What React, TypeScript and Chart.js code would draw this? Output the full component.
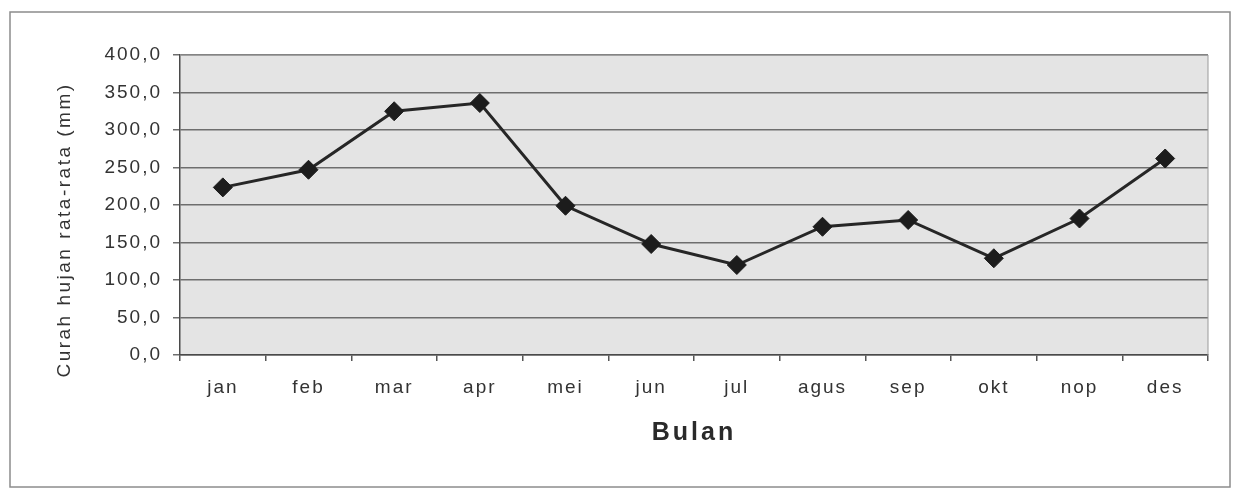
import React, { useEffect, useRef } from "react";
import { Chart, registerables } from "chart.js";

Chart.register(...registerables);

const months: string[] = ["jan", "feb", "mar", "apr", "mei", "jun", "jul", "agus", "sep", "okt", "nop", "des"];
const rainfall: number[] = [223.5, 247, 325, 336, 199, 148, 120, 171, 180, 129, 182, 262];
const yTickMin = 0;
const yTickMax = 400;
const yTickStep = 50;
const xTitle = "Bulan";
const yTitle = "Curah hujan rata-rata (mm)";

const FONT = "'Liberation Sans', Arial, sans-serif";
const TEXT = "#333333";

const decor = {
  id: "decor",
  beforeUpdate(chart: any) {
    chart.ctx.letterSpacing = "2px";
  },
  beforeDraw(chart: any) {
    const ctx = chart.ctx;
    ctx.letterSpacing = "2px";
    ctx.save();
    ctx.fillStyle = "#ffffff";
    ctx.fillRect(0, 0, chart.width, chart.height);
    ctx.strokeStyle = "#8c8c8c";
    ctx.lineWidth = 1.5;
    ctx.strokeRect(10, 12, 1220, 475);
    const a = chart.chartArea;
    ctx.fillStyle = "#e4e4e4";
    ctx.fillRect(a.left, a.top, a.right - a.left, a.bottom - a.top);
    ctx.restore();
  },
  beforeDatasetsDraw(chart: any) {
    const ctx = chart.ctx;
    const a = chart.chartArea;
    ctx.save();
    ctx.strokeStyle = "#9a9a9a";
    ctx.lineWidth = 1;
    ctx.beginPath();
    ctx.moveTo(a.left, a.top);
    ctx.lineTo(a.right, a.top);
    ctx.lineTo(a.right, a.bottom);
    ctx.stroke();
    ctx.restore();
  },
  afterDraw(chart: any) {
    const ctx = chart.ctx;
    ctx.save();
    ctx.fillStyle = "#2a2a2a";
    ctx.textAlign = "center";
    ctx.textBaseline = "middle";
    ctx.letterSpacing = "3px";
    ctx.font = `bold 25px ${FONT}`;
    ctx.fillText(xTitle, 694, 433);
    ctx.translate(65, 230);
    ctx.rotate(-Math.PI / 2);
    ctx.fillStyle = TEXT;
    ctx.letterSpacing = "2.5px";
    ctx.font = `19px ${FONT}`;
    ctx.fillText(yTitle, 0, 0);
    ctx.restore();
  },
};

export default function App() {
  const ref = useRef<HTMLCanvasElement | null>(null);
  useEffect(() => {
    document.body.style.margin = "0";
    const canvas = ref.current!;
    const chart = new Chart(canvas, {
      type: "line",
      data: {
        labels: months,
        datasets: [
          {
            data: rainfall,
            borderColor: "#262626",
            borderWidth: 3,
            pointStyle: "rectRot",
            pointRadius: 9.5,
            pointBackgroundColor: "#1c1c1c",
            pointBorderColor: "#1c1c1c",
            pointBorderWidth: 1,
            tension: 0,
            clip: false as any,
          },
        ],
      },
      options: {
        responsive: false,
        animation: false,
        events: [],
        layout: { padding: { top: 55, right: 25, left: 0, bottom: 0 } },
        plugins: { legend: { display: false }, tooltip: { enabled: false }, title: { display: false } },
        scales: {
          x: {
            type: "category",
            offset: true,
            grid: { offset: true, drawOnChartArea: false, drawTicks: true, tickLength: 6, color: "#555555", lineWidth: 1.5 },
            border: { display: true, color: "#4a4a4a", width: 1.5 },
            ticks: { autoSkip: false, maxRotation: 0, minRotation: 0, padding: 15, color: TEXT, font: { family: FONT, size: 19 } },
            afterFit: (s: any) => {
              s.height = 138;
            },
          },
          y: {
            min: yTickMin,
            max: yTickMax,
            ticks: {
              stepSize: yTickStep,
              padding: 11,
              color: TEXT,
              font: { family: FONT, size: 19 },
              callback: (v: any) => Number(v).toFixed(1).replace(".", ","),
            },
            grid: { color: "#6e6e6e", lineWidth: 1.5, tickLength: 7, drawTicks: true },
            border: { display: true, color: "#4a4a4a", width: 1.5 },
            afterFit: (s: any) => {
              s.width = 180;
            },
          },
        },
      },
      plugins: [decor],
    });
    return () => chart.destroy();
  }, []);
  return (
    <div style={{ position: "absolute", left: 0, top: 0, width: 1233, height: 493 }}>
      <canvas ref={ref} width={1233} height={493} />
    </div>
  );
}
